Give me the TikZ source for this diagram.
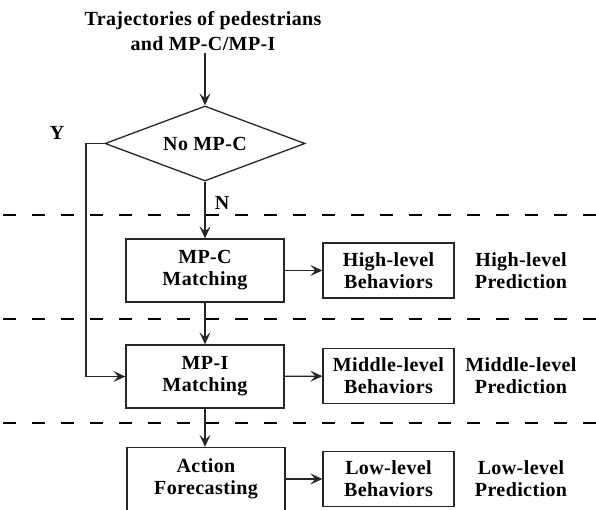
\documentclass[tikz,border=0pt]{standalone}
\usepackage{fontspec}
\setmainfont[LetterSpace=2]{Liberation Serif}
\usetikzlibrary{arrows.meta, shapes.geometric}
\colorlet{linecolor}{black!85}

\begin{document}
\begin{tikzpicture}[x=1pt, y=-1pt, >={Stealth[length=12pt, width=11pt, inset=5pt]},
  txt/.style={font=\bfseries\fontsize{20}{22}\selectfont, align=center, inner sep=0pt},
  block/.style={txt, draw=linecolor, line width=1.3pt, minimum width=158pt, minimum height=63pt},
  behav/.style={txt, draw=linecolor, line width=1.3pt, minimum width=131pt, minimum height=55pt},
  layer/.style={black, line width=2.2pt, dash pattern=on 13pt off 16pt},
  link/.style={linecolor, line width=1.3pt}]

  % Page frame 596 by 510, one unit per pixel of the reference.
  \useasboundingbox (0,0) rectangle (596,510);

  % Input and the first test.
  \node[txt, font=\bfseries\fontsize{20}{25}\selectfont] (input) at (203,31)
    {Trajectories of pedestrians\\and MP-C/MP-I};
  \node[txt, draw=linecolor, line width=1.3pt, diamond, aspect=2.65,
        minimum width=200pt, minimum height=75pt] (test) at (205,143.5) {No MP-C};
  \node[txt] (yes) at (57,133) {Y};
  \node[txt] (no) at (222,203) {N};

  % The three levels, split by dashed lines.
  \draw[layer] (3,215) -- (596,215);
  \draw[layer] (3,319) -- (596,319);
  \draw[layer] (3,423) -- (596,423);

  \node[block] (mpc) at (205,270.5) {MP-C\\Matching};
  \node[block] (mpi) at (205,376.5) {MP-I\\Matching};
  \node[block] (act) at (206,479) {Action\\Forecasting};

  \node[behav] (high) at (388.5,270.5) {High-level\\Behaviors};
  \node[behav] (mid) at (388.5,376) {Middle-level\\Behaviors};
  \node[behav] (low) at (388.5,479) {Low-level\\Behaviors};

  \node[txt] (highpred) at (521,270.5) {High-level\\Prediction};
  \node[txt] (midpred) at (521,376) {Middle-level\\Prediction};
  \node[txt] (lowpred) at (521,479) {Low-level\\Prediction};

  % Connectors.
  \coordinate (bend) at (86,143.5);
  \draw[link, ->] (input.south -| test.north) ++(0,2) -- (test.north);
  \draw[link, ->] (test.south) -- (mpc.north);
  \draw[link, ->] (test.west) -- (bend) |- (mpi.west);
  \draw[link, ->] (mpc) -- (mpi);
  \draw[link, ->] (mpi) -- (mpi |- act.north);
  \draw[link, ->] (mpc) -- (high);
  \draw[link, ->] (mpi) -- (mid);
  \draw[link, ->] (act) -- (low);

\end{tikzpicture}
\end{document}
